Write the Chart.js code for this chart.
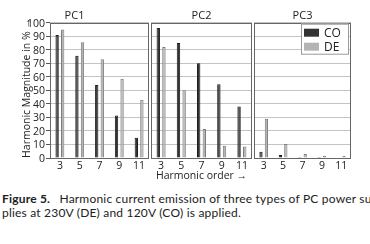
<!DOCTYPE html>
<html>
<head>
  <title>Harmonic current emission</title>
  <script src="https://cdn.jsdelivr.net/npm/chart.js"></script>
  <style>
    body { margin: 0; background: #fff; width: 370px; height: 244px; overflow: hidden; }
    canvas { position: absolute; top: 0; }
    #ytitle {
      position: absolute; left: -44px; top: 82px; width: 140px; height: 12px;
      font-family: "Open Sans", sans-serif; font-size: 10.5px; line-height: 12px; color: #222;
      text-align: center; white-space: nowrap; transform: rotate(-90deg);
    }
    .ytick {
      position: absolute; left: 14px; width: 31px; height: 14px; text-align: right;
      font-family: "Open Sans", sans-serif; font-size: 10.5px; line-height: 14px; color: #222;
    }
    #caption {
      position: absolute; left: 2px; top: 192px; width: 380px;
      font-family: "Lato", sans-serif; font-size: 12px; line-height: 14px; color: #222;
      letter-spacing: 0.2px; white-space: nowrap;
    }
    #caption b { font-weight: bold; margin-right: 6px; }
  </style>
</head>
<body>
  <canvas id="pc1" width="149" height="185" style="left:0px"></canvas>
  <canvas id="pc2" width="101" height="185" style="left:151px"></canvas>
  <canvas id="pc3" width="97" height="185" style="left:254px"></canvas>
  <div id="yticks"></div>
  <div id="ytitle">Harmonic Magnitude in % &rarr;</div>
  <div id="caption"><b>Figure 5.</b> Harmonic current emission of three types of PC power sup-<br>plies at 230V (DE) and 120V (CO) is applied.</div>

  <script>
    const harmonics = ['3', '5', '7', '9', '11'];
    const seriesNames = ['CO', 'DE'];

    // values in %
    const pc1CO = [91, 75.5, 54, 31.5, 15];
    const pc1DE = [95, 85.5, 73, 58.5, 43];
    const pc2CO = [96, 85, 70, 54.5, 38];
    const pc2DE = [82, 50, 21.5, 9, 8.5];
    const pc3CO = [4.7, 2.2, 0.8, 0.8, 0.4];
    const pc3DE = [29, 10.3, 3, 1.6, 1.6];

    const FONT = '"Open Sans", sans-serif';
    const textColor = '#222';

    // box around each panel
    const framePlugin = {
      id: 'frame',
      afterDatasetsDraw(chart) {
        const a = chart.chartArea;
        const ctx = chart.ctx;
        ctx.save();
        ctx.strokeStyle = '#666';
        ctx.lineWidth = 1;
        ctx.strokeRect(Math.round(a.left) + 0.5, Math.round(a.top) + 0.5,
          Math.round(a.right - a.left) - 1, Math.round(a.bottom - a.top));
        ctx.restore();
      }
    };

    // legend box inside the last panel
    const boxLegend = {
      id: 'boxLegend',
      afterDraw(chart) {
        const a = chart.chartArea;
        const ctx = chart.ctx;
        const x = a.right - 50, y = a.top + 1;
        ctx.save();
        ctx.fillStyle = '#fff';
        ctx.fillRect(x, y, 47, 30);
        ctx.strokeStyle = '#999';
        ctx.strokeRect(x + 0.5, y + 0.5, 47, 30);
        ctx.font = '12px ' + FONT;
        ctx.textBaseline = 'middle';
        chart.data.datasets.forEach((ds, i) => {
          const ry = y + 5 + i * 14;
          ctx.fillStyle = ds.backgroundColor;
          ctx.fillRect(x + 3, ry, 15, 8);
          ctx.fillStyle = textColor;
          ctx.fillText(ds.label, x + 23, ry + 4.5);
        });
        ctx.restore();
      }
    };

    function makePanel(id, title, coData, deData, withYAxis, withXTitle, withLegend) {
      const yScale = {
        min: 0,
        max: 100,
        grid: { color: '#c4c4c4', drawTicks: withYAxis, tickLength: 4, tickColor: '#555' },
        border: { display: false },
        ticks: { display: false, stepSize: 10 },
        afterFit(scale) { scale.width = withYAxis ? 50 : 0; }
      };

      const config = {
        type: 'bar',
        data: {
          labels: harmonics,
          datasets: [
            {
              label: seriesNames[0],
              data: coData,
              backgroundColor: '#333333',
              borderColor: '#1e1e1e',
              borderWidth: 1,
              categoryPercentage: 0.56,
              barPercentage: 0.6,
            },
            {
              label: seriesNames[1],
              data: deData,
              backgroundColor: '#b4b4b4',
              borderColor: '#7c7c7c',
              borderWidth: 1,
              categoryPercentage: 0.56,
              barPercentage: 0.6,
            },
          ]
        },
        options: {
          responsive: false,
          animation: false,
          devicePixelRatio: 1,
          layout: { padding: 0 },
          scales: {
            x: {
              grid: { display: false, drawTicks: false },
              border: { display: false },
              ticks: { color: textColor, font: { family: FONT, size: 10.5 }, padding: 2, maxRotation: 0 },
              title: {
                display: withXTitle,
                text: 'Harmonic order \u2192',
                color: textColor,
                font: { family: FONT, size: 10.5 },
                padding: { top: 0, bottom: 3 }
              },
              afterFit(scale) { scale.height = 27; }
            },
            y: yScale
          },
          plugins: {
            legend: { display: false },
            tooltip: { enabled: false },
            title: {
              display: true,
              text: title,
              color: textColor,
              font: { family: FONT, size: 11, weight: 'normal' },
              padding: { top: 9.5, bottom: 0 }
            }
          }
        },
        plugins: withLegend ? [framePlugin, boxLegend] : [framePlugin]
      };
      return new Chart(document.getElementById(id), config);
    }

    const chart1 = makePanel('pc1', 'PC1', pc1CO, pc1DE, true, false, false);
    makePanel('pc2', 'PC2', pc2CO, pc2DE, false, true, false);
    makePanel('pc3', 'PC3', pc3CO, pc3DE, false, false, true);

    // y tick labels placed from the chart's own y scale
    const yAxis = chart1.scales.y;
    const tickBox = document.getElementById('yticks');
    yAxis.ticks.forEach(t => {
      const d = document.createElement('div');
      d.className = 'ytick';
      d.textContent = t.value;
      d.style.top = (yAxis.getPixelForValue(t.value) - 7) + 'px';
      tickBox.appendChild(d);
    });
  </script>
</body>
</html>
